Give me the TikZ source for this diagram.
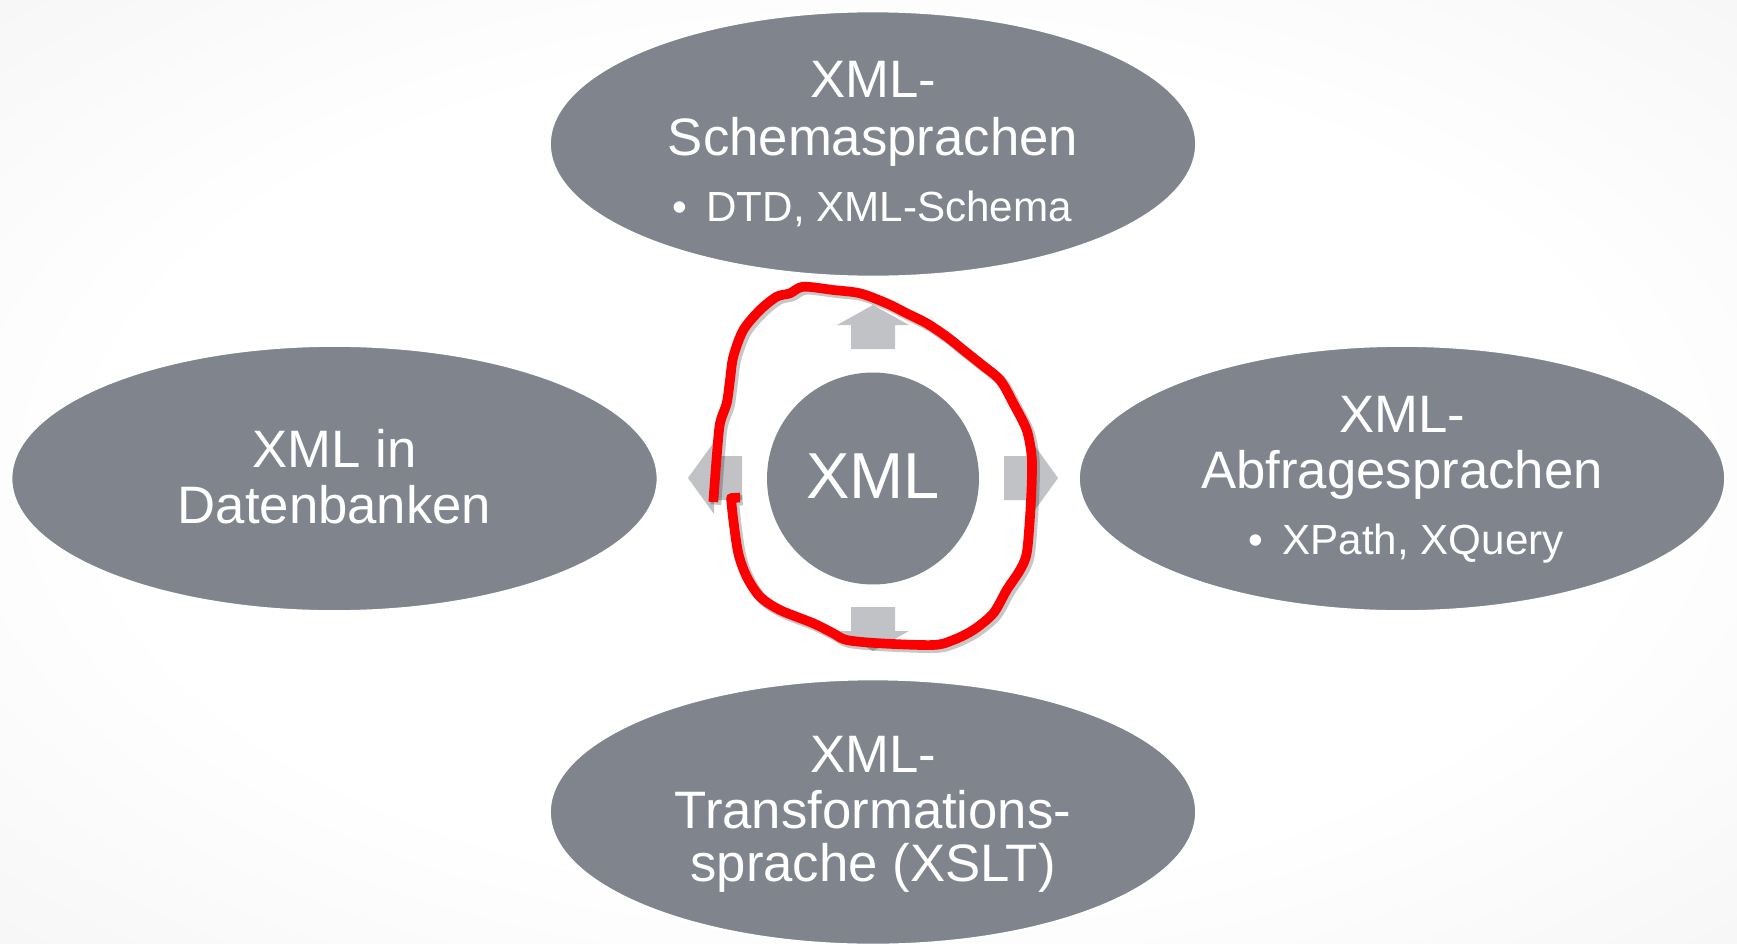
\documentclass[tikz,border=0pt]{standalone}
\usepackage{fontspec}
\setmainfont{Liberation Sans}
\usetikzlibrary{shapes.geometric}
\definecolor{ellgray}{RGB}{127,132,141}
\definecolor{arrgray}{RGB}{192,194,198}
\definecolor{scribred}{RGB}{250,0,0}
\definecolor{bgedge}{RGB}{238,238,238}
\definecolor{bgcorner}{RGB}{232,232,232}
\pgfdeclareradialshading{slidebg}{\pgfpoint{0bp}{0bp}}{%
  color(0bp)=(white); color(22bp)=(white); color(50bp)=(bgedge); color(72bp)=(bgcorner)}
\tikzset{
  bubble/.style={ellipse, fill=ellgray, draw=white, line width=1.5pt, inner sep=0pt,
    minimum width=12.94cm, minimum height=5.32cm},
  hub/.style={circle, fill=ellgray, inner sep=0pt, minimum size=4.24cm},
  title/.style={text=white, anchor=base, inner sep=0pt, font=\fontsize{30}{33}\selectfont},
  bullet/.style={text=white, anchor=base west, inner sep=0pt, font=\fontsize{24}{28}\selectfont},
  blockarrow/.style={fill=arrgray, draw=none},
}
\begin{document}
\begin{tikzpicture}[x=0.02cm,y=-0.02cm]
\shade[shading=slidebg] (0,0) rectangle (1737,943);
\useasboundingbox (0,0) rectangle (1737,943);
% block arrows around hub
\fill[blockarrow] (851,349) -- (851,325) -- (837,325) -- (873,305) -- (909,325) -- (895,325) -- (895,349) -- cycle;
\fill[blockarrow] (851,607) -- (851,631) -- (837,631) -- (873,651) -- (909,631) -- (895,631) -- (895,607) -- cycle;
\fill[blockarrow] (742,456) -- (714,456) -- (714,442) -- (688,478) -- (714,514) -- (714,500) -- (742,500) -- cycle;
\fill[blockarrow] (1004,456) -- (1032,456) -- (1032,442) -- (1058,478) -- (1032,514) -- (1032,500) -- (1004,500) -- cycle;
% hub
\node[hub] (xml) at (873,478.5) {};
\node[title, font=\fontsize{37}{40}\selectfont] (xmlt) at (873,498.5) {XML};
% bubbles
\node[bubble] (schema) at (873,144) {};
\node[bubble] (db) at (334.5,478.5) {};
\node[bubble] (query) at (1402,478.5) {};
\node[bubble] (trans) at (873,812) {};
% texts
\node[title] (s1) at (873,97.5) {XML-};
\node[title] (s2) at (873,155) {Schemasprachen};
\node[bullet] (s3) at (672,221.5) {•\hspace{11pt}DTD, XML-Schema};
\node[title] (d1) at (334.5,467.5) {XML in};
\node[title] (d2) at (334.5,523) {Datenbanken};
\node[title] (q1) at (1402,432) {XML-};
\node[title] (q2) at (1402,488.5) {Abfragesprachen};
\node[bullet] (q3) at (1248,554) {•\hspace{11pt}XPath, XQuery};
\node[title] (t1) at (873,772) {XML-};
\node[title] (t2) at (873,828.5) {Transformations-};
\node[title] (t3) at (873,881) {sprache (XSLT)};
% red hand-drawn loop
\def\loop{(713.3,502) (716.7,456.7) (720,423.3) (726.7,403.3) (730,380) (733.3,356.7) (743.3,330) (760,310) (776.7,296.7) (790,293.3) (803.3,286.7) (833.3,290) (860,293.3) (886.7,303.3) (906.7,313.3) (926.7,323.3) (946.7,336.7) (963.3,350) (980,363.3) (1000,380) (1013.3,403.3) (1026.7,430) (1031.7,456.7) (1031.7,483.3) (1030,516.7) (1026.7,553.3) (1020,570) (1006.7,590) (993.3,613.3) (973.3,630) (953.3,640) (933.3,645) (880,643.3) (846.7,640) (833.3,633.3) (813.3,623.3) (780,610) (760,596.7) (746.7,576.7) (738.3,553.3) (733.3,520) (731,498)}
\draw[black, opacity=0.22, line width=6pt, line join=round, xshift=1.5pt, yshift=-1.5pt] plot[smooth, tension=0.5] coordinates {\loop} -- (740,497.5);
\draw[scribred, line width=5.5pt, line join=round] plot[smooth, tension=0.5] coordinates {\loop} -- (740,497.5);
\end{tikzpicture}
\end{document}
